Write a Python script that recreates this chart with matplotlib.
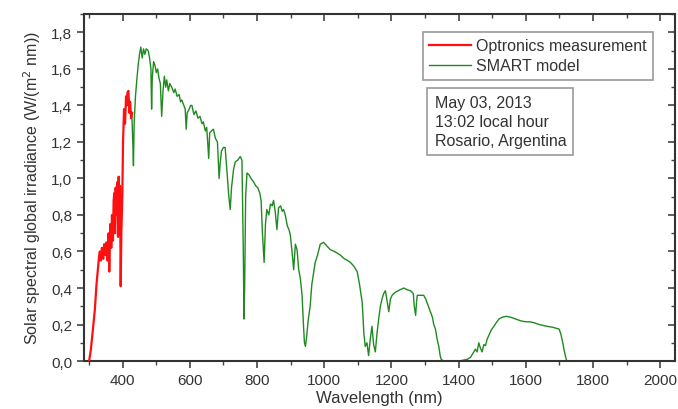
import matplotlib
matplotlib.use("Agg")
import matplotlib.pyplot as plt
from matplotlib.ticker import MultipleLocator, FuncFormatter, NullFormatter

plt.rcParams['font.family'] = ['Liberation Sans', 'DejaVu Sans']

# Optronics measurement (nm, W/(m2 nm))
opt_nm = [300, 305, 310, 317, 322, 327, 330, 332, 335, 338, 342, 345, 348, 352,
          355, 358, 360, 363, 366, 368, 371, 373, 375, 377, 379, 382, 384, 386,
          388, 390, 392, 394, 396, 399, 401, 404, 407, 410, 412, 414, 417, 420,
          422, 425, 428]
opt_val = [0.0, 0.06, 0.15, 0.28, 0.42, 0.52, 0.58, 0.60, 0.55, 0.62, 0.56, 0.64,
           0.58, 0.65, 0.55, 0.70, 0.49, 0.75, 0.62, 0.80, 0.66, 0.88, 0.92, 0.70,
           0.95, 0.80, 0.98, 0.68, 1.01, 0.75, 0.96, 0.41, 0.70, 0.92, 1.20, 1.38,
           1.30, 1.45, 1.40, 1.47, 1.48, 1.36, 1.42, 1.33, 1.36]

# SMART model
smart_nm = [427, 430, 432, 434, 438, 442, 446, 450, 454, 458, 462, 466, 470, 476,
            480, 484, 486, 488, 492, 496, 500, 504, 508, 512, 516, 520, 524, 528,
            531, 536, 540, 546, 552, 556, 562, 568, 572, 576, 582, 586, 589, 592,
            598, 602, 606, 612, 618, 624, 630, 636, 640, 646, 650, 653, 656, 659,
            664, 670, 676, 682, 687, 690, 694, 700, 705, 710, 716, 720, 724, 730,
            735, 742, 750, 755, 759, 761, 763, 766, 770, 776, 782, 790, 796, 802,
            808, 812, 816, 821, 825, 829, 835, 840, 845, 849, 854, 859, 864, 870,
            875, 879, 884, 890, 895, 899, 904, 909, 914, 919, 924, 929, 934, 938,
            941, 944, 948, 952, 958, 963, 968, 973, 980, 988, 998, 1008, 1018,
            1030, 1040, 1048, 1060, 1070, 1078, 1088, 1098, 1105, 1110, 1113, 1118,
            1122, 1127, 1132, 1137, 1142, 1147, 1152, 1157, 1162, 1167, 1172, 1177,
            1182, 1187, 1192, 1197, 1202, 1207, 1215, 1225, 1237, 1247, 1257, 1265,
            1268, 1272, 1275, 1277, 1285, 1296, 1302, 1308, 1316, 1322, 1326, 1331,
            1336, 1341, 1345, 1348, 1355, 1380, 1400, 1415, 1426, 1435, 1442, 1450,
            1455, 1460, 1465, 1470, 1475, 1480, 1485, 1490, 1497, 1505, 1512, 1520,
            1530, 1542, 1555, 1570, 1585, 1600, 1612, 1624, 1640, 1652, 1664, 1680,
            1690, 1699, 1704, 1709, 1714, 1719, 1722]
smart_val = [1.36, 1.20, 1.07, 1.30, 1.45, 1.54, 1.62, 1.68, 1.72, 1.66, 1.71, 1.68,
             1.71, 1.70, 1.66, 1.60, 1.38, 1.55, 1.64, 1.62, 1.58, 1.60, 1.55, 1.52,
             1.34, 1.48, 1.56, 1.50, 1.54, 1.48, 1.52, 1.50, 1.47, 1.49, 1.45, 1.46,
             1.42, 1.43, 1.40, 1.38, 1.27, 1.36, 1.38, 1.40, 1.40, 1.35, 1.37, 1.33,
             1.34, 1.30, 1.31, 1.26, 1.28, 1.20, 1.11, 1.25, 1.26, 1.27, 1.22, 1.20,
             1.00, 1.08, 1.15, 1.17, 1.17, 1.05, 0.90, 0.83, 0.95, 1.05, 1.09, 1.10,
             1.12, 1.10, 0.60, 0.23, 0.40, 0.90, 1.03, 1.02, 1.00, 0.98, 0.96, 0.95,
             0.92, 0.88, 0.70, 0.54, 0.75, 0.83, 0.80, 0.86, 0.85, 0.88, 0.82, 0.72,
             0.84, 0.85, 0.82, 0.83, 0.80, 0.74, 0.72, 0.69, 0.60, 0.50, 0.64, 0.61,
             0.50, 0.45, 0.36, 0.20, 0.10, 0.08, 0.14, 0.22, 0.30, 0.42, 0.48, 0.54,
             0.58, 0.64, 0.65, 0.63, 0.61, 0.60, 0.59, 0.58, 0.56, 0.55, 0.54, 0.52,
             0.49, 0.42, 0.36, 0.32, 0.15, 0.08, 0.10, 0.03, 0.12, 0.19, 0.09, 0.05,
             0.15, 0.23, 0.30, 0.34, 0.37, 0.385, 0.33, 0.27, 0.34, 0.36, 0.37, 0.38,
             0.39, 0.40, 0.39, 0.385, 0.37, 0.30, 0.25, 0.33, 0.36, 0.36, 0.36, 0.34,
             0.31, 0.27, 0.24, 0.20, 0.175, 0.12, 0.08, 0.03, 0.01, 0.0, 0.0, 0.0,
             0.005, 0.01, 0.02, 0.04, 0.065, 0.05, 0.10, 0.07, 0.05, 0.09, 0.085, 0.12,
             0.14, 0.17, 0.19, 0.21, 0.23, 0.24, 0.245, 0.24, 0.23, 0.22, 0.215, 0.215,
             0.21, 0.20, 0.195, 0.19, 0.185, 0.18, 0.175, 0.15, 0.11, 0.06, 0.02, 0.0]

info_text = "May 03, 2013\n13:02 local hour\nRosario, Argentina"

fig = plt.figure(figsize=(6.78, 4.10), dpi=100)
ax = fig.add_axes([0.124, 0.117, 0.872, 0.846])

ax.plot(smart_nm, smart_val, color='#1f8a1f', lw=1.0, label='SMART model', zorder=2)
ax.plot(opt_nm, opt_val, color='#ff1010', lw=1.6, label='Optronics measurement', zorder=3)

ax.set_xlim(285, 2045)
ax.set_ylim(0, 1.9)

ax.xaxis.set_major_locator(MultipleLocator(200))
ax.xaxis.set_minor_locator(MultipleLocator(100))
ax.yaxis.set_major_locator(MultipleLocator(0.2))
ax.yaxis.set_minor_locator(MultipleLocator(0.1))
ax.yaxis.set_major_formatter(FuncFormatter(lambda v, p: f"{v:.1f}".replace('.', ',')))

ax.tick_params(which='major', direction='out', length=5, width=1.2, labelsize=11,
               color='#444444', labelcolor='#333333')
ax.tick_params(which='minor', direction='out', length=3, width=1.0, color='#444444')

for s in ax.spines.values():
    s.set_linewidth(1.5)
    s.set_color('#333333')

# mirrored inward ticks on top and right
top = ax.secondary_xaxis('top')
top.xaxis.set_major_locator(MultipleLocator(200))
top.xaxis.set_minor_locator(MultipleLocator(100))
top.xaxis.set_major_formatter(NullFormatter())
top.tick_params(which='major', direction='in', length=5, width=1.2, color='#444444')
top.tick_params(which='minor', direction='in', length=3, width=1.0, color='#444444')
top.spines['top'].set_visible(False)

right = ax.secondary_yaxis('right')
right.yaxis.set_major_locator(MultipleLocator(0.2))
right.yaxis.set_minor_locator(MultipleLocator(0.1))
right.yaxis.set_major_formatter(NullFormatter())
right.tick_params(which='major', direction='in', length=5, width=1.2, color='#444444')
right.tick_params(which='minor', direction='in', length=3, width=1.0, color='#444444')
right.spines['right'].set_visible(False)

ax.set_xlabel('Wavelength (nm)', fontsize=12, color='#333333', labelpad=2)
ax.set_ylabel('Solar spectral global irradiance (W/(m$^2$ nm))', fontsize=11.5,
              color='#333333', labelpad=6)

h, l = ax.get_legend_handles_labels()
leg = ax.legend(h[::-1], l[::-1], loc='upper left', bbox_to_anchor=(0.624, 0.9195),
                bbox_transform=fig.transFigure, fontsize=11.5, frameon=True,
                fancybox=False, edgecolor='#999999', framealpha=1,
                handlelength=2.6, borderaxespad=0, borderpad=0.4,
                labelspacing=0.3, handletextpad=0.3)
for t in leg.get_texts():
    t.set_color('#333333')
leg.get_frame().set_linewidth(1.2)

fig.text(0.641, 0.765, info_text, fontsize=11.5, color='#333333', va='top', ha='left',
         linespacing=1.3,
         bbox=dict(boxstyle='square,pad=0.45', fc='white', ec='#999999', lw=1.2))

fig.savefig('out.png', dpi=100)
